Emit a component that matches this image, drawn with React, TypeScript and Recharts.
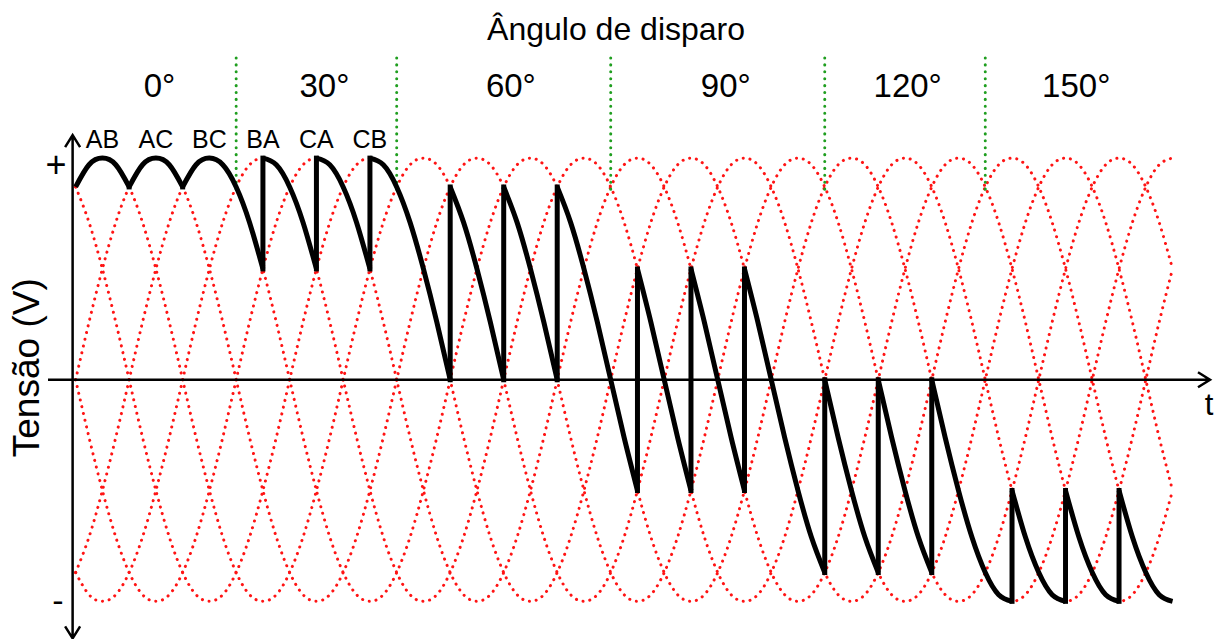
import { LineChart, Line, XAxis, YAxis, ReferenceLine, ReferenceDot } from "recharts";

document.body.style.margin = "0";

// one period of a line-to-line voltage, per unit, sampled every 15°
const wave = [
  0, 0.26, 0.5, 0.71, 0.87, 0.97, 1, 0.97, 0.87, 0.71, 0.5, 0.26,
  0, -0.26, -0.5, -0.71, -0.87, -0.97, -1, -0.97, -0.87, -0.71, -0.5, -0.26,
];
const STEP = 15;

// line voltages in conduction order, and the instants where each one peaks
const phases = ["AB", "AC", "BC", "BA", "CA", "CB"];
const phasePeaks = [30, 90, 150, 210, 270, 330];

// thyristor firing instants (electrical degrees) and end of the trace
const firings = [0, 60, 120, 210, 270, 330, 420, 480, 540, 630, 690, 750, 840, 900, 960, 1050, 1110, 1170];
const tEnd = 1230;

// firing-angle groups: captions, where the captions sit, and the dividers between groups
const angleLabels = ["0°", "30°", "60°", "90°", "120°", "150°"];
const angleLabelAt = [94, 279, 488, 729, 933, 1122];
const angleBounds = [180, 360, 600, 840, 1020];

const FONT = "'Liberation Sans', Arial, Helvetica, sans-serif";
const RED = "#ff1414";
const GREEN = "#1f9e1f";

const volt = (phase: number, t: number) => {
  const i = t / STEP + 4 - 4 * phase;
  return wave[((i % 24) + 24) % 24];
};

type Row = { t: number; [key: string]: number };
const rows: Row[] = [];
for (let t = 0; t <= tEnd; t += STEP) {
  const row: Row = { t };
  phases.forEach((p, j) => {
    row[p] = volt(j, t);
  });
  firings.forEach((f, k) => {
    const next = k + 1 < firings.length ? firings[k + 1] : tEnd;
    if (t >= f && t <= next) row[`s${k}`] = volt(k % 6, t);
  });
  rows.push(row);
}

// vertical steps of the output when the next pair is fired
const jumps = firings.slice(1).map((f, i) => ({
  t: f,
  from: volt(i % 6, f),
  to: volt((i + 1) % 6, f),
}));

const caption =
  (text: string, size: number, rotate = false) =>
  (p: any) => (
    <text
      x={p.cx}
      y={p.cy}
      fontSize={size}
      fontFamily={FONT}
      textAnchor="middle"
      fill="#000"
      transform={rotate ? `rotate(-90 ${p.cx} ${p.cy})` : undefined}
    >
      {text}
    </text>
  );

const arrowHead = (x: number, y: number, ux: number, uy: number) => {
  const a = 12;
  const w = 7.5;
  return `M${x - a * ux - w * uy},${y - a * uy + w * ux}L${x},${y}L${x - a * ux + w * uy},${y - a * uy - w * ux}`;
};

const axisShape = (bothEnds: boolean) => (p: any) => {
  const { x1, y1, x2, y2 } = p;
  const len = Math.hypot(x2 - x1, y2 - y1) || 1;
  const ux = (x2 - x1) / len;
  const uy = (y2 - y1) / len;
  let d = `M${x1},${y1}L${x2},${y2}` + arrowHead(x2, y2, ux, uy);
  if (bothEnds) d += arrowHead(x1, y1, -ux, -uy);
  return <path d={d} stroke="#000" strokeWidth={2.5} fill="none" strokeLinejoin="miter" />;
};

const jumpShape = (p: any) => (
  <line x1={p.x1} y1={p.y1} x2={p.x2} y2={p.y2} stroke="#000" strokeWidth={5} strokeLinecap="square" />
);

const dividerShape = (p: any) => (
  <line
    x1={p.x1}
    y1={p.y1}
    x2={p.x2}
    y2={p.y2}
    stroke={GREEN}
    strokeWidth={3}
    strokeDasharray="0.1 6.8"
    strokeLinecap="round"
  />
);

export default function App() {
  return (
    <div style={{ width: 1221, height: 639, background: "#fff" }}>
      <LineChart width={1221} height={639} data={rows} margin={{ top: 3, right: 11, bottom: 0, left: 48 }}>
        <XAxis type="number" dataKey="t" domain={[-31, 1272]} hide allowDataOverflow />
        <YAxis type="number" domain={[-1.17, 1.7]} hide allowDataOverflow />

        {phases.map((p) => (
          <Line
            key={p}
            dataKey={p}
            type="natural"
            stroke={RED}
            strokeWidth={3}
            strokeDasharray="0.1 6.8"
            strokeLinecap="round"
            dot={false}
            activeDot={false}
            isAnimationActive={false}
          />
        ))}

        {angleBounds.map((b) => (
          <ReferenceLine
            key={`d${b}`}
            segment={[
              { x: b, y: 0.86 },
              { x: b, y: 1.48 },
            ]}
            shape={dividerShape}
            ifOverflow="visible"
          />
        ))}

        <ReferenceLine
          segment={[
            { x: -31, y: 0 },
            { x: 1272, y: 0 },
          ]}
          shape={axisShape(false)}
          ifOverflow="visible"
        />
        <ReferenceLine
          segment={[
            { x: -3.4, y: -1.167 },
            { x: -3.4, y: 1.104 },
          ]}
          shape={axisShape(true)}
          ifOverflow="visible"
        />

        {firings.map((_, k) => (
          <Line
            key={`s${k}`}
            dataKey={`s${k}`}
            type="natural"
            stroke="#000"
            strokeWidth={5}
            dot={false}
            activeDot={false}
            connectNulls={false}
            isAnimationActive={false}
          />
        ))}
        {jumps.map((j) => (
          <ReferenceLine
            key={`j${j.t}`}
            segment={[
              { x: j.t, y: j.from },
              { x: j.t, y: j.to },
            ]}
            shape={jumpShape}
            ifOverflow="visible"
          />
        ))}

        {phases.map((p, i) => (
          <ReferenceDot key={`l${p}`} x={phasePeaks[i]} y={1.045} r={0} shape={caption(p, 25)} ifOverflow="visible" />
        ))}
        {angleLabels.map((a, i) => (
          <ReferenceDot key={`a${a}`} x={angleLabelAt[i]} y={1.275} r={0} shape={caption(a, 33)} ifOverflow="visible" />
        ))}
        <ReferenceDot x={606} y={1.533} r={0} shape={caption("Ângulo de disparo", 32)} ifOverflow="visible" />
        <ReferenceDot x={-22} y={0.915} r={0} shape={caption("+", 36)} ifOverflow="visible" />
        <ReferenceDot x={-20} y={-1.05} r={0} shape={caption("-", 34)} ifOverflow="visible" />
        <ReferenceDot x={1271} y={-0.16} r={0} shape={caption("t", 31)} ifOverflow="visible" />
        <ReferenceDot x={-40.6} y={0.054} r={0} shape={caption("Tensão (V)", 37, true)} ifOverflow="visible" />
      </LineChart>
    </div>
  );
}
